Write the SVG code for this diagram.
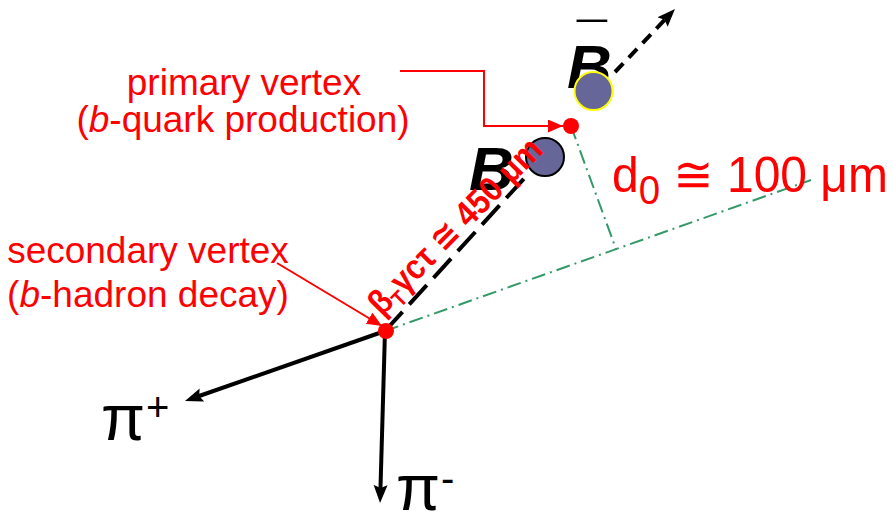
<svg xmlns="http://www.w3.org/2000/svg" width="894" height="511" viewBox="0 0 894 511">
<defs>
<style>
.red{fill:#ff0000;font-family:"Liberation Sans","DejaVu Sans",sans-serif;}
.lbl{font-size:37px;}
.blk{fill:#000;font-family:"Liberation Sans","DejaVu Sans",sans-serif;}
.bq{fill:#000;font-family:"Liberation Sans",sans-serif;font-weight:bold;font-style:italic;font-size:62px;}
.track{stroke:#000;stroke-width:4;fill:none;}
.green{stroke:#339966;stroke-width:2;fill:none;stroke-dasharray:14 5 2 5;}
.redline{stroke:#ff0000;stroke-width:2;fill:none;}
.vtx{fill:#ff0000;}
.meson{fill:#666699;stroke-width:2;}
</style>
<marker id="arrowBlack" markerUnits="userSpaceOnUse" markerWidth="20" markerHeight="16" refX="6" refY="7" orient="auto">
<path d="M0,0 L18,7 L0,14 L3,7 z" fill="#000"/>
</marker>
<marker id="arrowRed" markerUnits="userSpaceOnUse" markerWidth="16" markerHeight="14" refX="15" refY="6.5" orient="auto">
<path d="M0,0 L15,6.5 L0,13 z" fill="#ff0000"/>
</marker>
</defs>
<rect width="894" height="511" fill="#fff"/>

<g id="connectors">
<path class="green" d="M385,331 L811,180"/>
<path class="green" d="M571,126 L616,249"/>
<polyline class="redline" points="400,71 484,71 484,126 563,126" marker-end="url(#arrowRed)"/>
<line class="redline" x1="277" y1="263" x2="382" y2="326" marker-end="url(#arrowRed)"/>
<line class="track" x1="385" y1="331" x2="530" y2="172" stroke-dasharray="26 10"/>
<line class="track" x1="615" y1="72" x2="666.7" y2="17.7" stroke-width="3.5" stroke-dasharray="12 8" marker-end="url(#arrowBlack)"/>
<line class="track" x1="385" y1="331" x2="196.3" y2="397" marker-end="url(#arrowBlack)"/>
<line class="track" x1="385" y1="331" x2="380.4" y2="491" marker-end="url(#arrowBlack)"/>
</g>

<g id="Bbar">
<text class="bq" x="567" y="88">B<tspan x="577" y="60" font-size="54" font-style="normal">¯</tspan></text>
<circle class="meson" cx="593.5" cy="91" r="19" stroke="#ffff00"/>
</g>

<g id="B">
<text class="bq" x="469" y="190">B</text>
<circle class="meson" cx="545" cy="157" r="19" stroke="#000"/>
</g>

<g id="primary-vertex">
<circle class="vtx" cx="571" cy="126" r="8"/>
</g>

<g id="secondary-vertex">
<circle class="vtx" cx="386" cy="331" r="8"/>
</g>

<g id="label-primary">
<text class="red lbl" x="244" y="95" text-anchor="middle">primary vertex</text>
<text class="red lbl" x="243" y="132" text-anchor="middle">(<tspan font-style="italic">b</tspan>-quark production)</text>
</g>

<g id="label-secondary">
<text class="red lbl" x="148" y="263" text-anchor="middle">secondary vertex</text>
<text class="red lbl" x="148" y="307" text-anchor="middle">(<tspan font-style="italic">b</tspan>-hadron decay)</text>
</g>

<g id="decay-length">
<text class="red" font-weight="bold" font-size="35" textLength="232" lengthAdjust="spacingAndGlyphs" transform="translate(382,317) rotate(-45.5)">β<tspan font-size="22" dy="7">T</tspan><tspan dy="-7">γcτ ≅ 450 μm</tspan></text>
</g>

<g id="d0">
<text class="red" font-size="50" x="612" y="192" textLength="276" lengthAdjust="spacingAndGlyphs">d<tspan font-size="40" dy="12">0</tspan><tspan dy="-12"> ≅ 100 μm</tspan></text>
</g>

<g id="pi-plus">
<text class="blk" font-size="64" x="101" y="440">π<tspan font-size="40" x="146" y="421">+</tspan></text>
</g>

<g id="pi-minus">
<text class="blk" font-size="64" x="396" y="510">π<tspan font-size="40" x="441" y="492">-</tspan></text>
</g>
</svg>
